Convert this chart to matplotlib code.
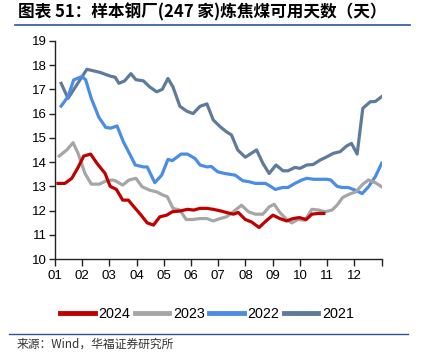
import matplotlib
matplotlib.use("Agg")
import matplotlib.pyplot as plt
from matplotlib.lines import Line2D

plt.rcParams['font.family'] = ['Liberation Sans', 'Noto Sans CJK SC', 'DejaVu Sans']

# week-of-year positions (0..52) and values
w2021 = [1.0, 2.1, 5.1, 7.2, 8.8, 9.6, 10.2, 11.1, 12.1, 12.9, 14.1, 15.1, 16.2, 17.1, 18.0, 18.8,
         19.9, 21.0, 22.0, 23.1, 24.2, 25.2, 26.3, 27.3, 28.1, 29.1, 30.3, 32.1, 33.1, 34.1, 35.2,
         36.3, 37.1, 38.2, 39.0, 40.1, 41.1, 42.2, 43.3, 44.3, 45.4, 46.4, 47.2, 48.1, 49.0, 50.2,
         51.0, 52.0]
v2021 = [17.25, 16.63, 17.83, 17.7, 17.55, 17.5, 17.25, 17.35, 17.65, 17.4, 17.35, 17.1, 16.9, 17.0,
         17.45, 17.1, 16.3, 16.1, 16.0, 16.3, 16.4, 15.74, 15.46, 15.25, 15.12, 14.5, 14.2, 14.5,
         13.95, 13.53, 13.88, 13.64, 13.64, 13.78, 13.74, 13.88, 13.9, 14.08, 14.22, 14.36, 14.43,
         14.66, 14.77, 14.33, 16.22, 16.49, 16.5, 16.7]

w2022 = [1.0, 2.1, 3.0, 4.3, 4.9, 5.8, 7.0, 8.1, 8.9, 9.9, 10.9, 11.8, 12.8, 14.1, 14.7, 15.9, 17.0,
         18.0, 18.7, 20.1, 21.1, 22.3, 23.1, 24.2, 24.9, 25.9, 27.0, 28.7, 29.9, 30.9, 31.9, 33.5,
         34.0, 35.1, 36.2, 37.1, 38.2, 39.3, 40.1, 41.2, 42.3, 43.3, 43.9, 44.9, 45.7, 46.7, 47.8,
         48.9, 49.9, 51.0, 52.0]
v2022 = [16.31, 16.7, 17.39, 17.53, 17.4, 16.63, 15.85, 15.43, 15.4, 15.49, 14.84, 14.39, 13.88, 13.8,
         13.8, 13.15, 13.46, 14.11, 14.06, 14.33, 14.33, 14.15, 13.88, 13.8, 13.82, 13.6, 13.53,
         13.46, 13.23, 13.19, 13.12, 13.12, 13.05, 12.87, 12.95, 12.95, 13.12, 13.26, 13.33, 13.29,
         13.29, 13.29, 13.26, 13.0, 12.95, 12.95, 12.84, 12.7, 12.98, 13.4, 13.95]

w2023 = [0.7, 1.9, 2.9, 3.7, 4.8, 5.8, 7.1, 8.2, 9.2, 9.6, 10.8, 11.8, 12.9, 13.9, 15.1, 16.2, 17.2,
         17.9, 18.8, 19.9, 20.9, 21.9, 23.1, 24.2, 25.2, 26.3, 27.3, 28.4, 29.7, 30.8, 31.9, 33.1,
         34.1, 34.9, 35.8, 36.9, 37.7, 38.7, 39.8, 40.9, 42.0, 43.0, 44.1, 44.9, 45.8, 46.9, 47.9,
         49.0, 49.9, 51.0, 52.0]
v2023 = [14.25, 14.5, 14.8, 14.36, 13.53, 13.09, 13.09, 13.23, 13.26, 13.23, 13.05, 13.26, 13.33,
         12.98, 12.84, 12.77, 12.64, 12.57, 12.09, 12.02, 11.63, 11.63, 11.67, 11.67, 11.57, 11.67,
         11.74, 11.95, 12.22, 11.95, 11.85, 11.85, 12.15, 12.26, 11.92, 11.63, 11.49, 11.63, 11.6,
         12.05, 12.02, 11.95, 12.02, 12.22, 12.54, 12.68, 12.77, 13.09, 13.26, 13.15, 12.98]

w2024 = [0.5, 1.6, 2.7, 3.7, 4.6, 5.7, 6.7, 8.0, 8.8, 9.8, 10.8, 11.7, 12.6, 13.6, 14.7, 15.7, 16.7,
         17.8, 18.7, 19.9, 21.1, 22.1, 23.1, 24.2, 25.2, 26.3, 27.3, 28.4, 29.2, 30.3, 31.3, 32.5,
         33.6, 34.7, 35.8, 36.9, 37.9, 38.9, 40.0, 40.9, 41.9, 42.8]
v2024 = [13.12, 13.12, 13.33, 13.78, 14.25, 14.33, 13.95, 13.53, 13.0, 12.87, 12.43, 12.43, 12.15,
         11.85, 11.49, 11.4, 11.74, 11.81, 11.95, 11.98, 12.05, 12.02, 12.09, 12.09, 12.05, 11.99,
         11.92, 11.85, 11.92, 11.63, 11.53, 11.3, 11.57, 11.81, 11.67, 11.57, 11.67, 11.71, 11.63,
         11.85, 11.88, 11.88]

month_labels = ['01', '02', '03', '04', '05', '06', '07', '08', '09', '10', '11', '12']
series_names = ['2024', '2023', '2022', '2021']
colors = ['#C00000', '#A6A6A6', '#4A8CE6', '#5F7B9C']

fig = plt.figure(figsize=(4.25, 3.62), dpi=100)
ax = fig.add_axes([0.129, 0.2845, 0.769, 0.6025])

data = [(w2024, v2024), (w2023, v2023), (w2022, v2022), (w2021, v2021)]
for (w, v), c in zip(reversed(data), reversed(colors)):
    ax.plot([x / 52 * 12 for x in w], v, color=c, lw=2.3, solid_joinstyle='round', zorder=2)

ax.set_xlim(0, 12)
ax.set_ylim(10, 19)
ax.set_yticks(range(10, 20))
ax.set_xticks(range(0, 13))
ax.set_xticklabels(month_labels + [''])
for s in ['top', 'right']:
    ax.spines[s].set_visible(False)
for s in ['left', 'bottom']:
    ax.spines[s].set_linewidth(1.0)
    ax.spines[s].set_color('#222222')
ax.tick_params(axis='both', labelsize=9.5, length=4, width=1, color='#222222', pad=2)
ax.tick_params(axis='x', length=5, pad=3)

handles = [Line2D([0], [0], color=c, lw=3.5) for c in colors]
fig.legend(handles, series_names, loc='center', bbox_to_anchor=(0.487, 0.133), ncol=4,
           frameon=False, fontsize=10.4, handlelength=2.4, handletextpad=0.25, columnspacing=0.3)

# title and rules
fig.text(0.042, 0.965, '图表 51：样本钢厂(247 家)炼焦煤可用天数（天）', fontsize=12,
         fontweight='bold', va='center', ha='left', family=['Noto Sans CJK SC', 'DejaVu Sans'])
fig.add_artist(Line2D([0.035, 0.965], [0.932, 0.932], color='#2F5597', lw=1.2))
fig.add_artist(Line2D([0.022, 0.96], [0.077, 0.077], color='#2F5597', lw=1.0))
fig.text(0.04, 0.048, '来源：Wind，华福证券研究所', fontsize=8.5, va='center', ha='left',
         family=['Noto Sans CJK SC', 'DejaVu Sans'], color='#333333')

fig.savefig('out.png', dpi=100)
